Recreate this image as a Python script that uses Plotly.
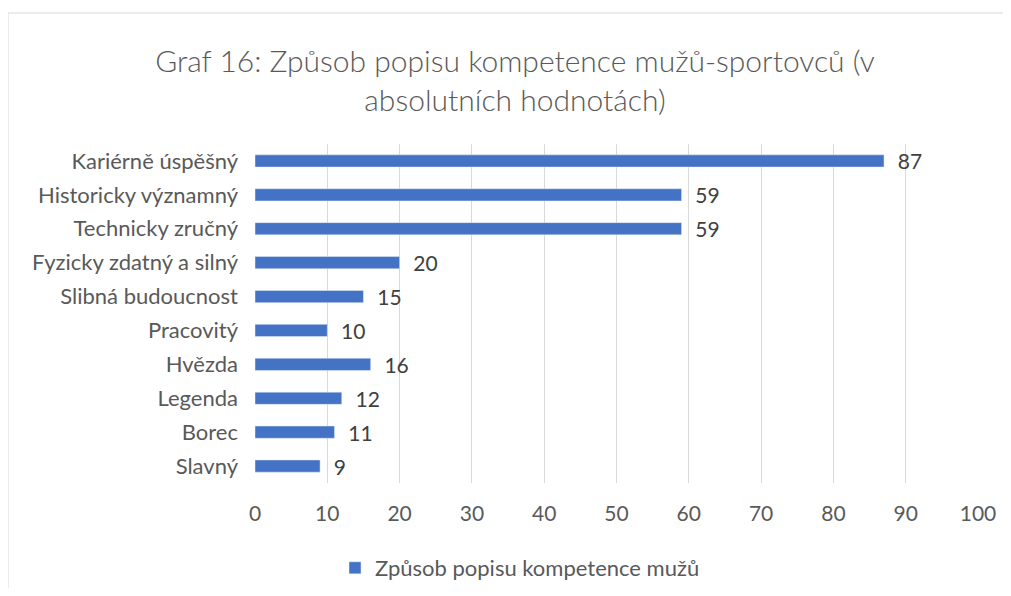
import plotly.graph_objects as go

categories = ["Kariérně úspěšný", "Historicky významný", "Technicky zručný",
              "Fyzicky zdatný a silný", "Slibná budoucnost", "Pracovitý",
              "Hvězda", "Legenda", "Borec", "Slavný"]
values = [87, 59, 59, 20, 15, 10, 16, 12, 11, 9]
series_name = "Způsob popisu kompetence mužů"
title_text = "Graf 16: Způsob popisu kompetence mužů-sportovců (v<br>absolutních hodnotách)"
x_ticks = [0, 10, 20, 30, 40, 50, 60, 70, 80, 90, 100]

FONT = "Lato, 'Open Sans', sans-serif"

fig = go.Figure()
fig.add_trace(go.Bar(
    y=categories, x=values, orientation="h", name=series_name,
    marker=dict(color="#4472C4"), width=0.36,
    text=values, texttemplate="  %{x}", textposition="outside",
    textfont=dict(size=21, color="#404040", family=FONT),
    constraintext="none",
    cliponaxis=False, showlegend=True,
))

# the page body has an 8px margin on every side; keep the figure inside the window
O = 8
W, H = 1011 - 2 * O, 596 - 2 * O
L, T = 255 - O, 144 - O
R = (1011 - O) - W - (978 - 1011) * -1 * 0 - 0
R = (O + W) - 978          # plot right edge at page x=978
B = (O + H) - 483          # plot bottom at page y=483
pw, ph = W - L - R, H - T - B

def px(x):
    return (x - O - L) / pw

def py(y):
    return (H - B - (y - O)) / ph

fig.update_layout(
    width=W, height=H,
    margin=dict(l=L, r=R, t=T, b=B, autoexpand=False),
    paper_bgcolor="white", plot_bgcolor="white",
    font=dict(family=FONT, color="#595959"),
    title=dict(text=title_text, x=(515 - O) / W, xanchor="center", xref="container",
               y=1 - (72 - O) / H, yanchor="middle", yref="container",
               font=dict(size=30, color="#595959", family=FONT, weight=300)),
    xaxis=dict(range=[0, 100], tickvals=x_ticks, showgrid=True,
               gridcolor="#d9d9d9", gridwidth=1, zeroline=False,
               showline=False, tickfont=dict(size=21, color="#595959"),
               ticklabelstandoff=16, fixedrange=True, automargin=False),
    yaxis=dict(categoryorder="array", categoryarray=categories[::-1],
               showgrid=False, zeroline=False, showline=False,
               tickfont=dict(size=22, color="#595959"),
               ticklabelstandoff=16, fixedrange=True, automargin=False),
    legend=dict(orientation="h", x=px(520), xanchor="center",
                y=py(568), yanchor="middle",
                font=dict(size=22, color="#595959"),
                itemwidth=30),
    bargap=0.64,
    shapes=[dict(type="rect", xref="paper", yref="paper",
                 x0=px(8), x1=px(1030), y0=py(620), y1=py(13),
                 line=dict(color="#d9d9d9", width=1), layer="below")],
)

fig.write_html("out.html")
